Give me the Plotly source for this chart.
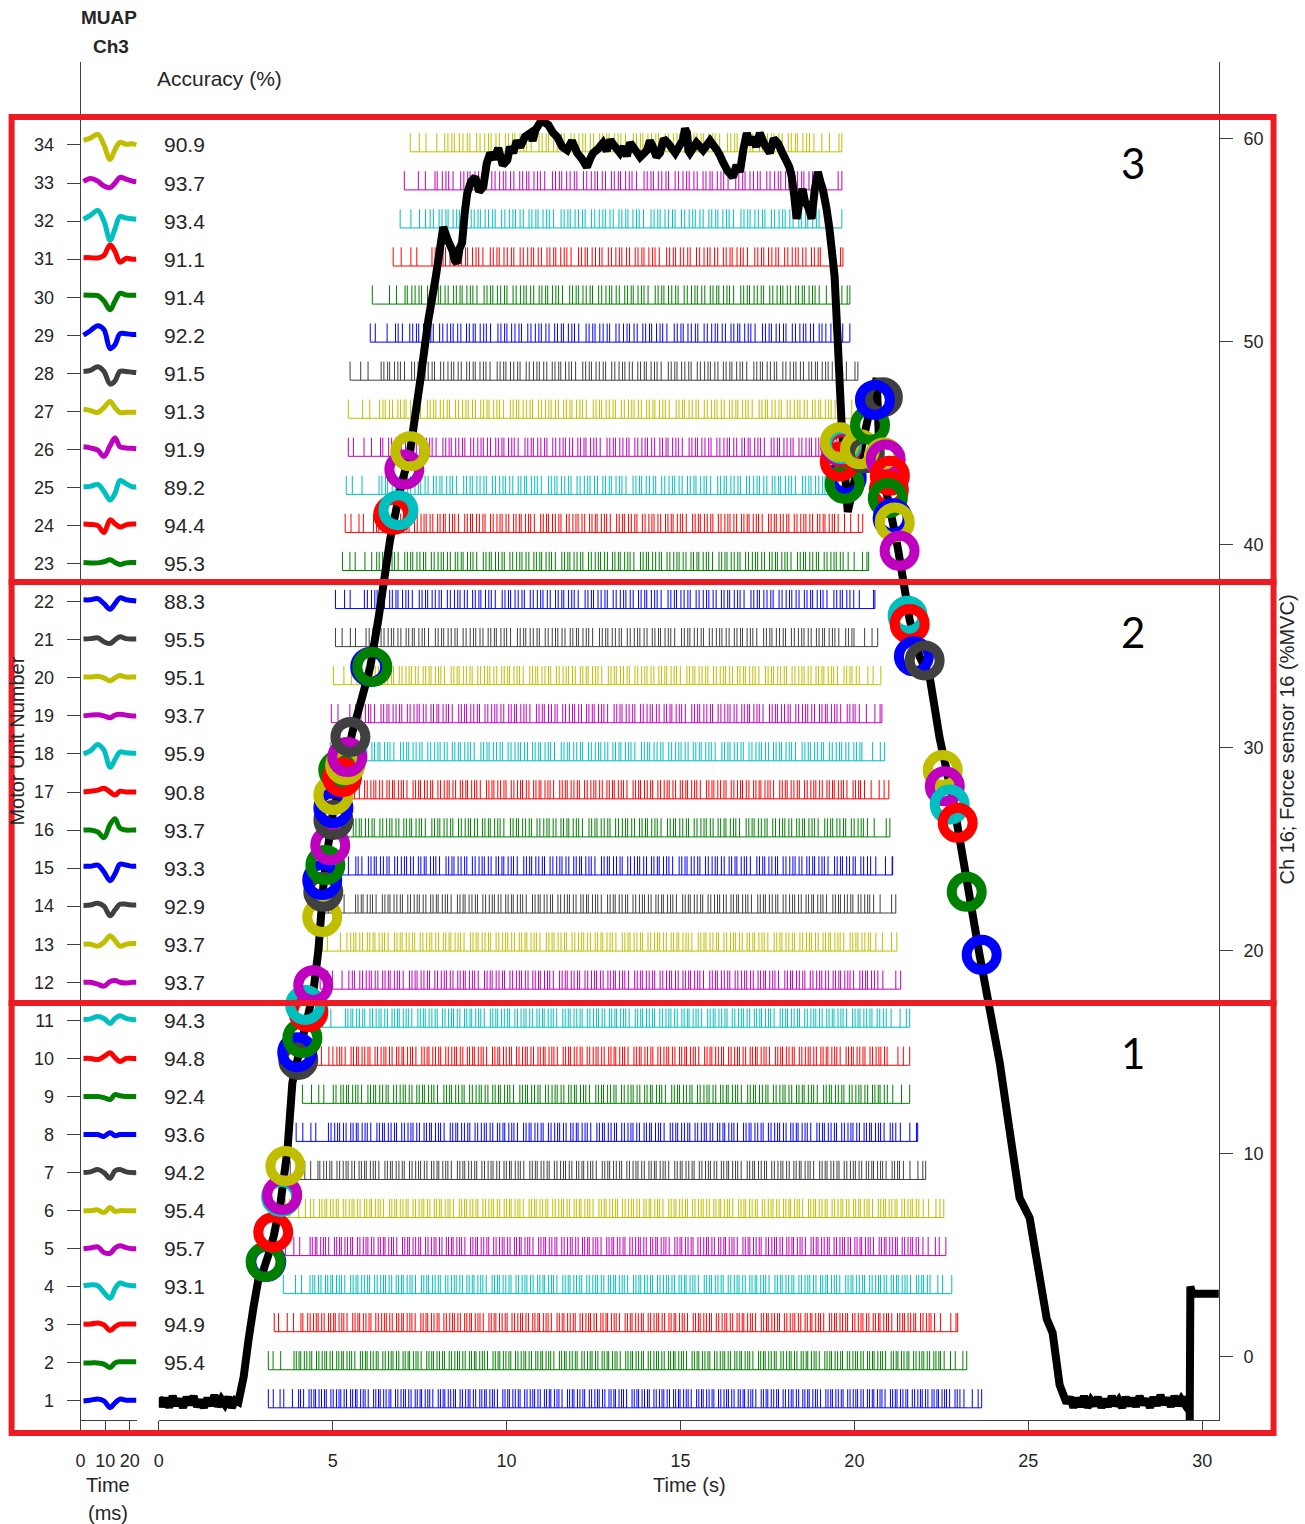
import plotly.graph_objects as go

# ---------------------------------------------------------------- data
units = list(range(1, 35))

# decomposition accuracy per motor unit (unit 1 ... 34); unit 1 has no printed value
accuracy = [None, 95.4, 94.9, 93.1, 95.7, 95.4, 94.2, 93.6, 92.4, 94.8,
            94.3, 93.7, 93.7, 92.9, 93.3, 93.7, 90.8, 95.9, 93.7, 95.1,
            95.5, 88.3, 95.3, 94.4, 89.2, 91.9, 91.3, 91.5, 92.2, 91.4,
            91.1, 93.4, 93.7, 90.9]

# first / last discharge of each motor unit (s)
train_start = [3.15, 3.15, 3.32, 3.58, 3.64, 3.64, 3.78, 3.95, 4.13, 4.21,
               4.36, 4.64, 4.70, 4.73, 4.79, 4.88, 4.93, 4.93, 4.96, 5.02,
               5.08, 5.08, 5.28, 5.36, 5.39, 5.45, 5.45, 5.50, 6.08, 6.14,
               6.74, 6.94, 7.06, 7.23]
train_end = [23.66, 23.23, 22.97, 22.80, 22.63, 22.57, 22.05, 21.82, 21.59, 21.59,
             21.59, 21.33, 21.22, 21.19, 21.10, 21.02, 20.99, 20.87, 20.79, 20.76,
             20.67, 20.59, 20.41, 20.24, 20.21, 20.16, 20.10, 20.10, 19.87, 19.87,
             19.67, 19.64, 19.64, 19.64]
# mean inter-spike interval of each unit (s)
mean_isi = [0.074, 0.076, 0.078, 0.081, 0.078, 0.080, 0.083, 0.084, 0.087, 0.081,
            0.083, 0.086, 0.087, 0.086, 0.089, 0.090, 0.084, 0.092, 0.089, 0.090,
            0.094, 0.095, 0.090, 0.087, 0.097, 0.094, 0.095, 0.098, 0.101, 0.098,
            0.101, 0.103, 0.105, 0.108]
# relative variability of consecutive discharge intervals
isi_variability = [1.0, 0.7, 1.3, 0.9, 1.6, 0.8, 1.1, 0.6, 1.4, 1.0, 0.75, 1.2,
                   2.1, 0.85, 1.05, 0.65, 1.35, 0.95, 1.15, 0.7, 1.8, 0.9, 1.25]

# MUAP templates (channel 3): samples in ms, amplitude in motor-unit row units
muap_time = [1.2, 4.0, 7.0, 9.5, 12.0, 14.0, 16.0, 18.5, 21.0, 22.6]
muap_shape = [
    [0.00, 0.02, 0.05, 0.00, -0.17, -0.05, 0.05, 0.02, 0.02, 0.02],   # 1
    [0.00, 0.00, 0.00, -0.03, -0.12, 0.00, 0.03, 0.03, 0.03, 0.03],   # 2
    [0.02, 0.02, 0.05, 0.00, -0.15, -0.05, 0.02, 0.02, 0.02, 0.02],   # 3
    [0.03, 0.05, 0.03, -0.15, -0.30, -0.05, 0.10, 0.05, 0.03, 0.03],  # 4
    [0.00, 0.02, 0.05, -0.10, -0.12, 0.02, 0.08, 0.03, 0.00, 0.00],   # 5
    [0.00, 0.00, 0.02, -0.05, 0.08, -0.02, 0.00, 0.00, 0.00, 0.00],   # 6
    [0.00, 0.02, 0.08, 0.00, -0.15, 0.05, 0.08, 0.02, 0.00, 0.00],    # 7
    [0.00, 0.00, 0.00, -0.05, 0.05, -0.03, 0.00, 0.00, 0.00, 0.00],   # 8
    [0.00, 0.00, 0.00, -0.03, -0.08, 0.05, 0.02, 0.00, 0.00, 0.00],   # 9
    [0.00, 0.00, -0.03, 0.05, 0.15, 0.02, -0.08, 0.00, 0.00, 0.00],   # 10
    [0.02, 0.04, 0.10, 0.05, -0.08, 0.05, 0.12, 0.05, 0.02, 0.02],    # 11
    [0.00, 0.00, -0.05, -0.10, 0.02, 0.05, 0.00, -0.02, 0.00, 0.00],  # 12
    [0.00, 0.00, -0.05, 0.05, 0.22, 0.10, -0.05, 0.00, 0.02, 0.02],   # 13
    [0.02, 0.03, 0.08, 0.00, -0.25, -0.10, 0.05, 0.05, 0.03, 0.03],   # 14
    [0.05, 0.05, 0.08, -0.10, -0.33, -0.15, 0.10, 0.08, 0.05, 0.05],  # 15
    [0.00, 0.00, -0.05, -0.20, 0.15, 0.30, 0.05, 0.00, 0.00, 0.00],   # 16
    [0.00, 0.02, 0.05, 0.10, 0.00, -0.08, 0.02, 0.00, 0.00, 0.00],    # 17
    [0.00, 0.08, 0.25, 0.10, -0.35, -0.15, 0.05, 0.03, 0.02, 0.02],   # 18
    [0.00, 0.02, 0.03, 0.00, -0.05, 0.02, 0.04, 0.02, 0.00, 0.00],    # 19
    [0.02, 0.02, 0.04, 0.00, -0.08, 0.00, 0.06, 0.02, 0.02, 0.02],    # 20
    [0.02, 0.03, 0.05, -0.05, -0.10, 0.00, 0.08, 0.03, 0.02, 0.02],   # 21
    [0.05, 0.05, 0.08, -0.05, -0.20, -0.05, 0.10, 0.05, 0.03, 0.02],  # 22
    [0.03, 0.02, 0.02, 0.05, 0.10, 0.03, -0.02, 0.02, 0.03, 0.03],    # 23
    [0.04, 0.03, 0.00, -0.18, 0.15, 0.05, -0.04, 0.02, 0.04, 0.04],   # 24
    [0.02, 0.03, 0.08, -0.10, -0.33, -0.15, 0.18, 0.10, 0.02, 0.02],  # 25
    [0.07, 0.04, -0.02, -0.18, 0.10, 0.30, 0.07, 0.04, 0.03, 0.02],   # 26
    [0.06, 0.02, -0.03, 0.10, 0.26, 0.10, -0.03, -0.02, -0.02, -0.02],  # 27
    [0.05, 0.08, 0.17, 0.05, -0.28, -0.20, 0.05, 0.05, 0.03, 0.02],   # 28
    [0.00, 0.12, 0.25, 0.15, -0.35, -0.25, 0.04, 0.04, 0.02, 0.02],   # 29
    [0.06, 0.05, 0.04, -0.10, -0.33, -0.10, 0.10, 0.06, 0.05, 0.05],  # 30
    [0.04, 0.04, 0.03, 0.10, 0.38, 0.20, -0.08, 0.02, 0.00, 0.00],    # 31
    [0.05, 0.15, 0.28, 0.00, -0.50, -0.20, 0.12, 0.08, 0.06, 0.05],   # 32
    [0.04, 0.12, 0.05, -0.08, -0.12, 0.00, 0.15, 0.10, 0.05, 0.03],   # 33
    [0.12, 0.18, 0.28, 0.00, -0.38, -0.12, 0.07, 0.02, 0.03, 0.00],   # 34
]

# force sensor 16 (%MVC) over time (s)
force_t = [0.0, 0.1, 0.2, 0.3, 0.4, 0.5, 0.6, 0.7, 0.8, 0.9, 1.0, 1.1, 1.2, 1.3, 1.4, 1.5,
           1.6, 1.7, 1.8, 1.9, 2.0, 2.1, 2.2, 2.29,
           2.44, 2.58, 2.72, 2.86, 3.01, 3.15, 3.30, 3.50, 3.70, 3.84, 4.07, 4.25, 4.44,
           4.59, 4.73, 4.84, 5.02, 5.36, 5.56, 5.85, 6.08, 6.31, 6.65, 6.94, 7.23, 7.52,
           7.75, 7.95, 8.18, 8.31, 8.44, 8.51, 8.58, 8.65, 8.72, 8.80, 8.87, 8.98, 9.10,
           9.21, 9.33, 9.43, 9.53, 9.65, 9.76, 9.89, 10.02, 10.10, 10.19, 10.29, 10.39,
           10.53, 10.68, 10.75, 10.83, 11.00, 11.20, 11.33, 11.46, 11.60, 11.74, 11.88,
           12.03, 12.17, 12.31, 12.40, 12.49, 12.63, 12.77, 12.88, 12.98, 13.12, 13.26,
           13.36, 13.46, 13.55, 13.64, 13.84, 14.04, 14.12, 14.21, 14.31, 14.41, 14.52,
           14.64, 14.85, 15.07, 15.13, 15.19, 15.23, 15.27, 15.46, 15.65, 15.85, 16.05,
           16.13, 16.22, 16.36, 16.51, 16.61, 16.71, 16.81, 16.91, 17.00, 17.08, 17.18,
           17.28, 17.42, 17.57, 17.68, 17.80, 17.93, 18.06, 18.13, 18.20, 18.27, 18.34,
           18.43, 18.51, 18.58, 18.66, 18.72, 18.77, 18.86, 18.95, 19.02, 19.09, 19.15,
           19.20, 19.28, 19.35, 19.43, 19.52, 19.64, 19.81, 20.64, 20.73, 21.02, 21.25,
           21.45, 21.59, 21.88, 22.17, 22.45, 22.83, 23.23, 23.60, 23.89, 24.18, 24.46,
           24.75, 25.04, 25.24, 25.53, 25.70, 25.90, 26.10,
           26.2, 26.3, 26.4, 26.5, 26.6, 26.7, 26.8, 26.9, 27.0, 27.1, 27.2, 27.3, 27.4,
           27.5, 27.6, 27.7, 27.8, 27.9, 28.0, 28.1, 28.2, 28.3, 28.4, 28.5, 28.6, 28.7,
           28.8, 28.9, 29.0, 29.1, 29.2, 29.3, 29.4, 29.5, 29.6, 29.64,
           29.64, 29.66, 29.72, 30.48]
force_v = [-2.00, -2.45, -2.05, -2.50, -1.95, -2.40, -2.10, -2.50, -2.00, -2.35, -1.95,
           -2.45, -2.15, -2.50, -2.05, -2.40, -1.90, -2.45, -2.10, -2.35, -2.00, -2.50,
           -2.15, -2.23,
           -1.00, 0.82, 2.40, 3.78, 4.27, 5.00, 5.90, 7.57, 10.18, 13.48, 15.26, 16.50,
           17.92, 20.03, 23.14, 24.81, 26.95, 28.92, 30.72, 32.50, 33.98, 36.29, 40.23,
           42.69, 44.66, 48.11, 51.07, 53.04, 55.65, 55.00, 54.52, 54.00, 53.88, 54.60,
           54.87, 56.40, 57.33, 57.90, 58.11, 57.40, 57.62, 58.80, 59.30, 59.00, 59.54,
           58.70, 58.95, 59.60, 59.30, 59.90, 59.59, 60.10, 60.28, 59.90, 60.43, 60.90,
           60.68, 60.30, 60.08, 59.60, 59.44, 59.90, 59.30, 59.00, 58.60, 59.00, 59.30,
           59.50, 59.79, 59.40, 59.94, 59.60, 59.30, 59.60, 59.15, 59.80, 59.59, 59.10,
           59.44, 59.90, 59.59, 59.10, 59.30, 60.00, 59.79, 59.30, 59.94, 60.50, 60.28,
           59.40, 59.30, 59.80, 59.44, 59.90, 59.44, 59.20, 58.85, 58.40, 58.11, 58.70,
           58.36, 59.50, 60.28, 59.70, 60.08, 59.60, 60.28, 59.70, 59.30, 60.00, 59.79,
           59.30, 58.85, 58.60, 58.11, 57.20, 56.05, 57.00, 57.52, 56.90, 56.68, 56.40,
           56.05, 57.50, 58.36, 57.90, 57.52, 57.00, 56.54, 55.60, 54.52, 53.24, 50.08,
           45.65, 41.61, 48.21, 44.12, 41.80, 39.83, 37.77, 36.29, 34.47, 33.43, 30.48,
           27.47, 23.48, 19.79, 17.13, 14.47, 11.17, 7.82, 6.83, 4.80, 1.86, 1.17, -1.39,
           -2.28,
           -2.00, -2.50, -2.05, -2.45, -1.95, -2.50, -2.15, -2.40, -2.00, -2.50, -2.10,
           -2.45, -1.95, -2.40, -2.15, -2.50, -2.00, -2.40, -2.05, -2.45, -1.95, -2.35,
           -2.10, -2.50, -2.00, -2.40, -1.90, -2.35, -2.05, -2.45, -1.95, -2.40, -2.10,
           -2.35, -2.00, -2.20,
           -3.60, 3.45, 3.10, 3.10]

# recruitment (rising phase) and de-recruitment (falling phase) markers
recruit_unit = [1, 2, 3, 4, 5, 6, 7, 8, 9, 10, 11, 12, 13, 14, 15, 16, 19, 21, 15,
                20, 16, 17, 20, 19, 21, 22, 23, 24, 25, 26, 27]
recruit_t = [3.09, 3.07, 3.29, 3.52, 3.55, 3.64, 4.01, 3.98, 4.13, 4.30, 4.21, 4.44,
             4.70, 4.73, 4.70, 4.79, 4.93, 5.02, 5.02, 5.02, 5.16, 5.27, 5.36, 5.42,
             5.51, 6.08, 6.14, 6.74, 6.89, 7.06, 7.23]
recruit_f = [4.67, 4.67, 6.13, 7.87, 7.97, 9.39, 14.62, 15.00, 15.70, 16.98, 17.33,
             18.30, 21.66, 22.90, 23.48, 24.22, 25.20, 26.44, 27.03, 27.67, 28.90,
             28.55, 29.14, 29.54, 30.53, 33.98, 33.98, 41.47, 41.70, 43.70, 44.60]
derecruit_unit = [29, 30, 31, 24, 33, 32, 34, 28, 27, 23, 28, 29, 27, 26, 24, 17,
                  23, 22, 20, 26, 25, 24, 22, 21, 20, 19, 18, 17, 16, 15]
derecruit_t = [19.78, 19.72, 19.58, 19.64, 19.58, 19.64, 19.58, 20.30, 20.16, 20.45,
               20.82, 20.59, 20.85, 20.90, 21.02, 20.99, 20.96, 21.10, 21.16, 21.30,
               21.53, 21.59, 21.71, 22.02, 22.54, 22.60, 22.74, 22.97, 23.23, 23.66]
derecruit_f = [43.3, 43.0, 44.1, 44.8, 44.9, 44.96, 45.05, 44.5, 44.7, 45.9, 47.27,
               47.13, 44.3, 44.2, 43.4, 42.7, 42.3, 41.3, 41.1, 39.7, 36.5, 36.1, 34.5,
               34.3, 28.9, 28.1, 27.2, 26.3, 22.9, 19.8]

time_ticks = [0, 5, 10, 15, 20, 25, 30]
muap_ticks = [0, 10, 20]
force_ticks = [0, 10, 20, 30, 40, 50, 60]

# ---------------------------------------------------------------- style
W, H = 1305, 1524
FONT = "Liberation Sans, Arial, sans-serif"
TXT = "#262626"
AX = "#404040"
PALETTE = ["#0000ff", "#008000", "#ff0000", "#00bfbf", "#bf00bf", "#bfbf00", "#404040"]
BOX_RED = "#ed1c24"

# horizontal layout calibration (column offset and scale of the page grid)
X_OFF, X_SCALE = 4.4, 0.9947


def unit_color(u):
    return PALETTE[(u - 1) % len(PALETTE)]


def fx(p):  # pixel column -> paper x
    return (p - X_OFF) / X_SCALE / W


def fy(p):  # pixel row -> paper y
    return 1 - p / H


def spike_times(u):
    t0, t1, isi = train_start[u - 1], train_end[u - 1], mean_isi[u - 1]
    times, t, k = [t0], t0, 5 * u
    while True:
        step = isi * isi_variability[k % len(isi_variability)]
        if t - t0 < 0.7 or t1 - t < 0.7:
            step *= 2.4
        t += step
        k += 1
        if t >= t1:
            break
        times.append(t)
    times.append(t1)
    return times


fig = go.Figure()

# MUAP templates in the narrow left panel
for u in units:
    fig.add_trace(go.Scatter(
        x=muap_time, y=[u + v for v in muap_shape[u - 1]],
        xaxis="x", yaxis="y", mode="lines",
        line=dict(color=unit_color(u), width=5, shape="spline", smoothing=1.0),
        hoverinfo="skip", showlegend=False))

# discharge trains: one tick per discharge plus a baseline
SPIKE_LO, SPIKE_HI = -0.18, 0.31
for u in units:
    xs, ys = [], []
    for s in spike_times(u):
        xs += [s, s, None]
        ys += [u + SPIKE_LO, u + SPIKE_HI, None]
    xs += [train_start[u - 1], train_end[u - 1]]
    ys += [u + SPIKE_LO, u + SPIKE_LO]
    fig.add_trace(go.Scatter(
        x=xs, y=ys, xaxis="x2", yaxis="y", mode="lines",
        line=dict(color=unit_color(u), width=1, simplify=False),
        hoverinfo="skip", showlegend=False))

# force trace on the right-hand axis
fig.add_trace(go.Scatter(
    x=force_t, y=force_v, xaxis="x2", yaxis="y2", mode="lines",
    line=dict(color="black", width=8, simplify=False),
    hoverinfo="skip", showlegend=False))

# recruitment / de-recruitment rings
for us, ts, fs in ((recruit_unit, recruit_t, recruit_f),
                   (derecruit_unit, derecruit_t, derecruit_f)):
    fig.add_trace(go.Scatter(
        x=ts, y=fs, xaxis="x2", yaxis="y2", mode="markers",
        marker=dict(symbol="circle-open", size=30,
                    color=[unit_color(u) for u in us], line=dict(width=10)),
        hoverinfo="skip", showlegend=False))

axis_common = dict(showline=True, linecolor=AX, linewidth=1, showgrid=False,
                   zeroline=False, ticks="outside", tickcolor=AX, tickwidth=1,
                   tickfont=dict(size=18, color=TXT, family=FONT))
y_dom = [fy(1420), fy(62)]

fig.update_layout(
    width=W, height=H, margin=dict(l=0, r=0, t=0, b=0),
    paper_bgcolor="white", plot_bgcolor="rgba(0,0,0,0)", showlegend=False,
    font=dict(family=FONT, size=18, color=TXT),
    xaxis=dict(domain=[fx(80), fx(136.7)], range=[0, 23], anchor="y",
               tickvals=muap_ticks, ticklen=10, ticklabelstandoff=14, **axis_common),
    xaxis2=dict(domain=[fx(158.3), fx(1219.3)], range=[0, 30.48], anchor="y",
                tickvals=time_ticks, ticklen=10, ticklabelstandoff=14, **axis_common),
    yaxis=dict(domain=y_dom, range=[0.5, 36.18], anchor="x", tickvals=units,
               ticklen=13, ticklabelstandoff=9, **axis_common),
    yaxis2=dict(domain=y_dom, range=[-3.12, 63.78], anchor="x2", overlaying="y",
                side="right", tickvals=force_ticks, ticklen=13, ticklabelstandoff=7,
                **axis_common),
)

ann = []
# accuracy column
for u in units:
    if accuracy[u - 1] is None:
        continue
    ann.append(dict(x=0.08, y=u, xref="x2", yref="y", xanchor="left", yanchor="middle",
                    text=f"{accuracy[u - 1]:.1f}", showarrow=False,
                    font=dict(size=21, color=TXT, family=FONT)))


def paper_text(text, x, y, size, angle=0, anchor="center", color=TXT, family=FONT):
    return dict(x=fx(x), y=fy(y), xref="paper", yref="paper", text=text,
                xanchor=anchor, yanchor="middle", showarrow=False, textangle=angle,
                font=dict(size=size, color=color, family=family))


ann += [
    paper_text("<b>MUAP</b>", 108, 18, 19),
    paper_text("<b>Ch3</b>", 110, 46, 19),
    paper_text("Accuracy (%)", 155, 78, 21, anchor="left"),
    paper_text("Time (s)", 689, 1485, 20),
    paper_text("Time", 107, 1485, 20),
    paper_text("(ms)", 107, 1513, 20),
    paper_text("Motor Unit Number", 16, 741, 20, angle=-90),
    paper_text("Ch 16; Force sensor 16 (%MVC)", 1287, 740, 20, angle=-90),
    paper_text("3", 1133, 163, 42, color="black", family="Lato, sans-serif"),
    paper_text("2", 1133, 632, 42, color="black", family="Lato, sans-serif"),
    paper_text("1", 1133, 1053, 42, color="black", family="Lato, sans-serif"),
]
fig.update_layout(annotations=ann)

# region frames
frames = [(117, 582), (582, 1003), (1003, 1433)]
fig.update_layout(shapes=[
    dict(type="rect", xref="paper", yref="paper", x0=fx(11), x1=fx(1274),
         y0=fy(bot), y1=fy(top), line=dict(color=BOX_RED, width=6),
         fillcolor="rgba(0,0,0,0)", layer="above")
    for top, bot in frames
])

fig.write_html("out.html")
